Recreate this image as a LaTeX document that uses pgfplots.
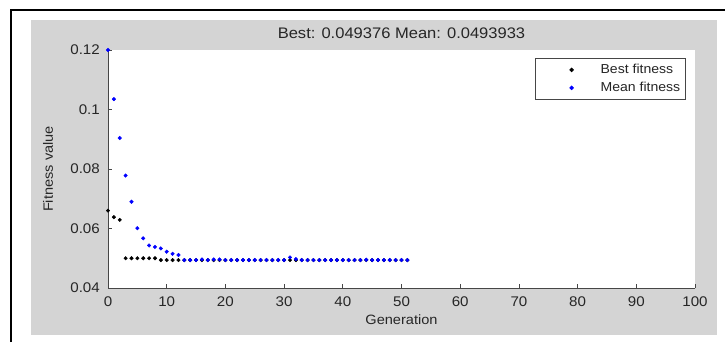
\documentclass[border=0pt]{standalone}
\usepackage{pgfplots}
\usepackage{pgfplotstable}
\pgfplotsset{compat=1.18}
\usepackage{fontspec}
\setmainfont{Liberation Sans}[FakeStretch=1.08]
\definecolor{panelgray}{RGB}{212,212,212}
\definecolor{axgray}{RGB}{70,70,70}
\definecolor{mblue}{RGB}{0,0,255}
\pgfplotstableread{
gen best mean
0 0.0660 0.1200
1 0.0638 0.1035
2 0.0629 0.0904
3 0.0500 0.0778
4 0.0500 0.0690
5 0.0500 0.0601
6 0.0500 0.0567
7 0.0500 0.0543
8 0.0500 0.0538
9 0.049376 0.0533
10 0.049376 0.0522
11 0.049376 0.0515
12 0.049376 0.0511
13 0.049376 0.0494
14 0.049376 0.0494
15 0.049376 0.0494
16 0.049376 0.0496
17 0.049376 0.0494
18 0.049376 0.0496
19 0.049376 0.0496
20 0.049376 0.0494
21 0.049376 0.0494
22 0.049376 0.0494
23 0.049376 0.0494
24 0.049376 0.0494
25 0.049376 0.0494
26 0.049376 0.0494
27 0.049376 0.0494
28 0.049376 0.0494
29 0.049376 0.0494
30 0.049376 0.0494
31 0.049376 0.0503
32 0.049376 0.0497
33 0.049376 0.0494
34 0.049376 0.0494
35 0.049376 0.0494
36 0.049376 0.0494
37 0.049376 0.0494
38 0.049376 0.0494
39 0.049376 0.0494
40 0.049376 0.0494
41 0.049376 0.0494
42 0.049376 0.0494
43 0.049376 0.0494
44 0.049376 0.0495
45 0.049376 0.0494
46 0.049376 0.0494
47 0.049376 0.0494
48 0.049376 0.0494
49 0.049376 0.0494
50 0.049376 0.0494
51 0.049376 0.0493933
}\data
\begin{document}
\begin{tikzpicture}[x=1bp,y=1bp]
\useasboundingbox (0,0) rectangle (725,342);
\fill[white] (0,0) rectangle (725,342);
\fill[panelgray] (31,7) rectangle (717,322);
\draw[line width=2bp] (11,0) -- (11,332) -- (725,332);
\node[font=\fontsize{15.3bp}{18bp}\selectfont, text=black!85] at (401.5,309) {Best: 0.049376 Mean: 0.0493933};
\begin{axis}[
  at={(108bp,54bp)}, anchor=south west, scale only axis,
  width=587bp, height=238bp,
  xmin=0, xmax=100, ymin=0.04, ymax=0.12,
  xtick={0,10,...,100}, ytick={0.04,0.06,0.08,0.1,0.12},
  yticklabels={0.04,0.06,0.08,0.1,0.12},
  scaled y ticks=false,
  axis lines*=left,
  axis line style={axgray, line width=0.9bp},
  tick align=inside, major tick length=4bp,
  tick style={axgray, line width=0.8bp},
  axis background/.style={fill=white},
  /pgf/number format/assume math mode=true,
  ticklabel style={font=\fontsize{14bp}{16bp}\selectfont, text=black!85},
  xticklabel style={yshift=-5.5bp},
  yticklabel style={xshift=-4.7bp},
  every axis x label/.style={at={(axis description cs:0.5,-0.134)}, anchor=center},
  every axis y label/.style={at={(axis description cs:-0.102,0.5)}, rotate=90, anchor=center},
  label style={font=\fontsize{13.5bp}{15bp}\selectfont, text=black!85},
  xlabel={Generation}, ylabel={Fitness value},
  legend cell align=left,
  legend image code/.code={\path[draw=none] (0bp,0bp) (60bp,0bp); \draw[#1] plot coordinates {(33bp,0bp)};},
  legend style={at={(0.984,0.966)}, anchor=north east, draw=axgray, line width=0.8bp,
    font=\fontsize{13bp}{15bp}\selectfont, text=black!85, inner xsep=3bp, inner ysep=4bp,
    row sep=3bp},
]
\addplot[only marks, mark=*, mark size=1.8bp, black] table[x=gen, y=best] {\data};
\addlegendentry{Best fitness}
\addplot[only marks, mark=*, mark size=1.8bp, mblue] table[x=gen, y=mean] {\data};
\addlegendentry{Mean fitness}
\end{axis}
\end{tikzpicture}
\end{document}
